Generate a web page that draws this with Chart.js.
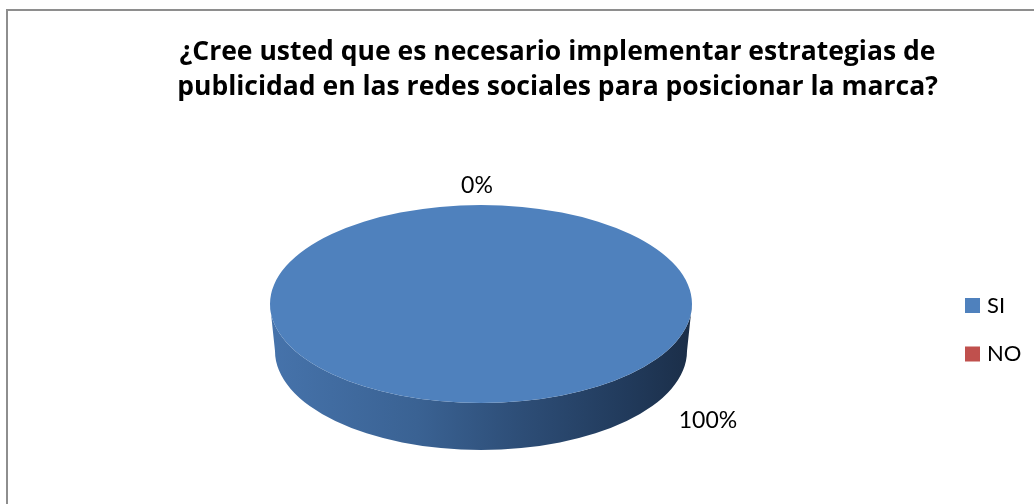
<!DOCTYPE html>
<html>
<head>
<meta charset="utf-8">
<script src="https://cdn.jsdelivr.net/npm/chart.js@4.4.1/dist/chart.umd.min.js"></script>
<style>
  html, body { margin: 0; padding: 0; background: #ffffff; }
  canvas { display: block; }
</style>
</head>
<body>
<canvas id="chart" width="1034" height="504"></canvas>
<script>
// Survey answer shares (percent of respondents)
const titleLines = [
  '¿Cree usted que es necesario implementar estrategias de',
  'publicidad en las redes sociales para posicionar la marca?'
];
const categories = ['SI', 'NO'];
const percentages = [100, 0];
const sliceColors = ['#4F81BD', '#C0504D'];
const valueLabels = percentages.map(v => v + '%');

// Tilted-disc look: top face squashed vertically, extruded side below it
const TILT = 99 / 211;       // vertical squash of the top face
const TOP_CY = 304;          // screen y of the top face centre
const DEPTH = 47;            // thickness of the disc
const BOTTOM_SHRINK = 5;     // slight perspective narrowing of the base

const FONT = 'Lato, "Open Sans", "DejaVu Sans", sans-serif';
const TITLE_FONT = '"Open Sans", Lato, "DejaVu Sans", sans-serif';

function frontRange(s, e) {
  // part of the slice facing the viewer (canvas angles 0..PI are the lower half)
  const a0 = Math.max(s, 0), a1 = Math.min(e, Math.PI);
  return a1 > a0 ? [a0, a1] : null;
}

const disc3d = {
  id: 'disc3d',
  beforeDraw(chart) {
    const ctx = chart.ctx;
    ctx.save();
    ctx.fillStyle = '#ffffff';
    ctx.fillRect(0, 0, chart.width, chart.height);
    ctx.strokeStyle = '#8e8e8e';
    ctx.lineWidth = 2;
    ctx.strokeRect(7, 10, chart.width + 20, chart.height + 20);
    ctx.restore();
  },
  beforeDatasetsDraw(chart) {
    const ctx = chart.ctx;
    const meta = chart.getDatasetMeta(0);
    meta.data.forEach((arc, i) => {
      const p = arc.getProps(['x', 'y', 'startAngle', 'endAngle', 'outerRadius'], true);
      const r = frontRange(p.startAngle, p.endAngle);
      if (!r) return;
      const rx = p.outerRadius, ry = rx * TILT;
      const rxB = rx - BOTTOM_SHRINK, ryB = ry;
      const cyB = TOP_CY + DEPTH;
      const g = ctx.createLinearGradient(p.x - rx, 0, p.x + rx, 0);
      g.addColorStop(0.0, '#4673ab');
      g.addColorStop(0.35, '#3a6293');
      g.addColorStop(0.6, '#2d4d76');
      g.addColorStop(0.85, '#213a5b');
      g.addColorStop(1.0, '#1b2e48');
      ctx.save();
      ctx.beginPath();
      ctx.ellipse(p.x, TOP_CY, rx, ry, 0, r[0], r[1], false);
      ctx.lineTo(p.x + rxB * Math.cos(r[1]), cyB + ryB * Math.sin(r[1]));
      ctx.ellipse(p.x, cyB, rxB, ryB, 0, r[1], r[0], true);
      ctx.closePath();
      ctx.fillStyle = g;
      ctx.fill();
      ctx.restore();
    });
    const first = meta.data[0];
    ctx.save();
    ctx.translate(0, TOP_CY);
    ctx.scale(1, TILT);
    ctx.translate(0, -first.y);
  },
  afterDatasetsDraw(chart) {
    const ctx = chart.ctx;
    ctx.restore();
    const meta = chart.getDatasetMeta(0);
    ctx.save();
    ctx.fillStyle = '#000000';
    ctx.font = '23px ' + FONT;
    ctx.textBaseline = 'alphabetic';
    meta.data.forEach((arc, i) => {
      const p = arc.getProps(['x', 'y', 'startAngle', 'endAngle', 'outerRadius'], true);
      const rx = p.outerRadius, ry = rx * TILT;
      const span = p.endAngle - p.startAngle;
      if (span <= 0) {
        // empty slice: label sits just outside the rim where the slice starts
        const a = p.startAngle;
        ctx.textAlign = 'center';
        ctx.fillText(valueLabels[i], p.x + rx * Math.cos(a) - 4, TOP_CY + ry * Math.sin(a) - 12);
      } else {
        // label outside the lower-right rim of the base
        const a = span >= 2 * Math.PI - 1e-6 ? 0.75 : (p.startAngle + p.endAngle) / 2;
        const bx = p.x + (rx - BOTTOM_SHRINK) * Math.cos(a);
        const by = TOP_CY + DEPTH + ry * Math.sin(a);
        ctx.textAlign = 'left';
        ctx.fillText(valueLabels[i], bx + 47, by + 10);
      }
    });
    ctx.restore();
  },
  afterDraw(chart) {
    const ctx = chart.ctx;
    ctx.save();
    // title
    ctx.fillStyle = '#000000';
    ctx.font = 'bold 26.5px ' + TITLE_FONT;
    ctx.textAlign = 'center';
    ctx.fillText(titleLines[0], 557.5, 59.5);
    ctx.fillText(titleLines[1], 557.5, 95);
    // legend
    ctx.font = '22px ' + FONT;
    ctx.textAlign = 'left';
    categories.forEach((c, i) => {
      const y = 298 + i * 48.5;
      ctx.fillStyle = sliceColors[i];
      ctx.fillRect(965, y, 15, 15);
      ctx.fillStyle = '#000000';
      ctx.fillText(c, 987, y + 14.5);
    });
    ctx.restore();
  }
};

new Chart(document.getElementById('chart'), {
  type: 'pie',
  data: {
    labels: categories,
    datasets: [{
      data: percentages,
      backgroundColor: sliceColors,
      borderWidth: 0
    }]
  },
  options: {
    responsive: false,
    devicePixelRatio: 1,
    animation: false,
    events: [],
    layout: { padding: { left: 270, right: 342, top: 40, bottom: 42 } },
    plugins: {
      legend: { display: false },
      title: { display: false },
      tooltip: { enabled: false }
    }
  },
  plugins: [disc3d]
});
</script>
</body>
</html>
